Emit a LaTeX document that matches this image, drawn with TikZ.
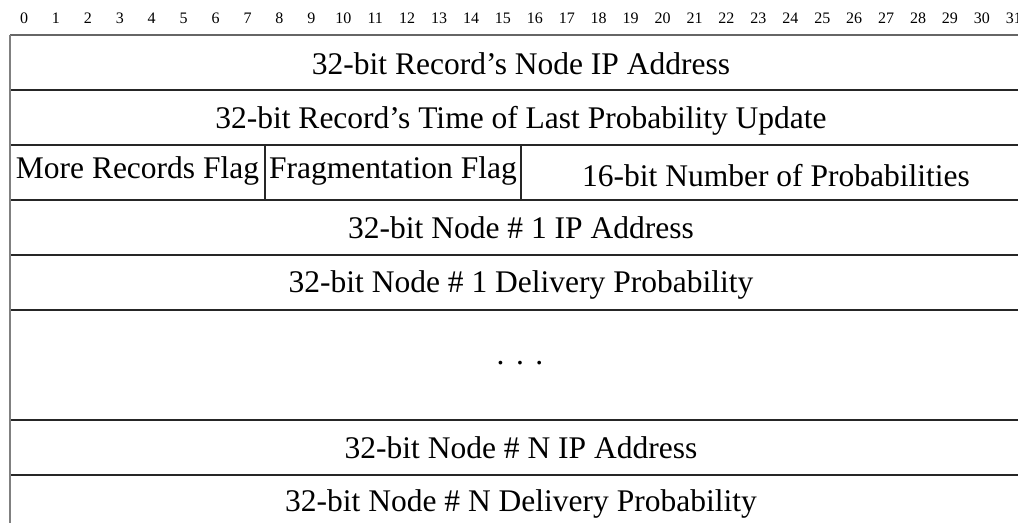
\documentclass[tikz,border=0pt]{standalone}
\usepackage{fontspec}
\setmainfont{Liberation Serif}
\begin{document}
\begin{tikzpicture}[x=1pt,y=-1pt,
    field/.style={font=\fontsize{31.5}{36}\selectfont, inner sep=0pt, anchor=base},
    bitnum/.style={font=\fontsize{16}{19}\selectfont, inner sep=0pt, anchor=base},
    rule/.style={line width=2pt, black!85}]
  \useasboundingbox (0,0) rectangle (1018,523);
  \clip (0,0) rectangle (1018,523);
  \foreach \b in {0,...,31}
    \node[bitnum] (bit\b) at ({24+31.93*\b},23) {\b};
  \draw [rule, black!60] (10,35) -- (1032,35);
  \foreach \y in {90,145,200,255,310,420,475}
    \draw [rule] (10,\y) -- (1032,\y);
  \draw [line width=2pt, black!50] (10,35) -- (10,523);
  \draw [rule] (265,145) -- (265,200);
  \draw [rule] (521,145) -- (521,200);
  \node [field] (recaddr) at (521,74) {32-bit Record’s Node IP Address};
  \node [field] (rectime) at (521,128) {32-bit Record’s Time of Last Probability Update};
  \node [field] (moreflag) at (137.5,178) {More Records Flag};
  \node [field] (fragflag) at (393,178) {Fragmentation Flag};
  \node [field] (numprob) at (776,186) {16-bit Number of Probabilities};
  \node [field] (firstaddr) at (521,238) {32-bit Node \# 1 IP Address};
  \node [field] (firstprob) at (521,292) {32-bit Node \# 1 Delivery Probability};
  \node [field] (dots) at (520,364) {.\hspace{11.5pt}.\hspace{11.5pt}.};
  \node [field] (lastaddr) at (521,458) {32-bit Node \# N IP Address};
  \node [field] (lastprob) at (521,511) {32-bit Node \# N Delivery Probability};
\end{tikzpicture}
\end{document}
